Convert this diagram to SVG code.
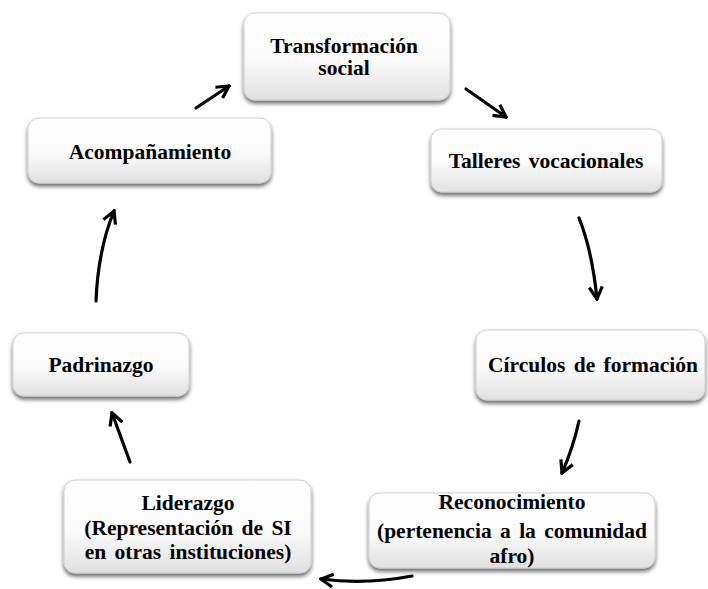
<svg xmlns="http://www.w3.org/2000/svg" width="708" height="589" viewBox="0 0 708 589">
<defs>
<linearGradient id="g" x1="0" y1="0" x2="0" y2="1">
<stop offset="0" stop-color="#ffffff"/>
<stop offset="0.55" stop-color="#fafafa"/>
<stop offset="1" stop-color="#e0e0e0"/>
</linearGradient>
<filter id="sh" x="-10%" y="-10%" width="120%" height="130%">
<feGaussianBlur in="SourceAlpha" stdDeviation="2"/>
<feOffset dx="0" dy="3" result="b"/>
<feComponentTransfer><feFuncA type="linear" slope="0.6"/></feComponentTransfer>
<feMerge><feMergeNode/><feMergeNode in="SourceGraphic"/></feMerge>
</filter>
<marker id="ah" viewBox="0 0 16 16" refX="14" refY="8" markerWidth="16" markerHeight="16" markerUnits="userSpaceOnUse" orient="auto">
<path d="M2,1.5 L14,8 L2,14.5" fill="none" stroke="#000" stroke-width="3.2" stroke-linejoin="miter"/>
</marker>
</defs>
<style>
.box{fill:url(#g);stroke:#cfcfcf;stroke-width:1;filter:url(#sh)}
.t{font-family:"Liberation Serif","Times New Roman",serif;font-weight:bold;font-size:21.5px;fill:#000;text-anchor:middle;word-spacing:3px}
.c{fill:none;stroke:#000;stroke-width:3.2;stroke-linecap:round;marker-end:url(#ah)}
</style>
<g id="connectors">
<path class="c" d="M196,108 L229,86"/>
<path class="c" d="M466,89 L506,117"/>
<path class="c" d="M579,218 Q592,250 597,299"/>
<path class="c" d="M579,421 Q573,448 562,473"/>
<path class="c" d="M412,576 Q365,585 321,579"/>
<path class="c" d="M130,462 Q122,440 112,413"/>
<path class="c" d="M96,301 Q98,250 114,211"/>
</g>
<g id="n-transformacion">
<rect class="box" x="244" y="13" width="206" height="87" rx="11"/>
<text class="t" x="344" y="53">Transformación</text>
<text class="t" x="344" y="75">social</text>
</g>
<g id="n-talleres">
<rect class="box" x="431" y="129" width="231" height="63" rx="11"/>
<text class="t" x="546" y="168">Talleres vocacionales</text>
</g>
<g id="n-circulos">
<rect class="box" x="476" y="330" width="229" height="70" rx="11"/>
<text class="t" x="593" y="372">Círculos de formación</text>
</g>
<g id="n-reconocimiento">
<rect class="box" x="369" y="493" width="286" height="75" rx="11"/>
<text class="t" x="512" y="509">Reconocimiento</text>
<text class="t" x="512" y="538">(pertenencia  a la comunidad</text>
<text class="t" x="512" y="563">afro)</text>
</g>
<g id="n-liderazgo">
<rect class="box" x="64" y="480" width="247" height="93" rx="11"/>
<text class="t" x="188" y="510">Liderazgo</text>
<text class="t" x="188" y="535">(Representación de SI</text>
<text class="t" x="188" y="559">en otras instituciones)</text>
</g>
<g id="n-padrinazgo">
<rect class="box" x="13" y="333" width="176" height="63" rx="11"/>
<text class="t" x="101" y="372">Padrinazgo</text>
</g>
<g id="n-acompanamiento">
<rect class="box" x="28" y="118" width="243" height="65" rx="11"/>
<text class="t" x="150" y="159">Acompañamiento</text>
</g>
</svg>
